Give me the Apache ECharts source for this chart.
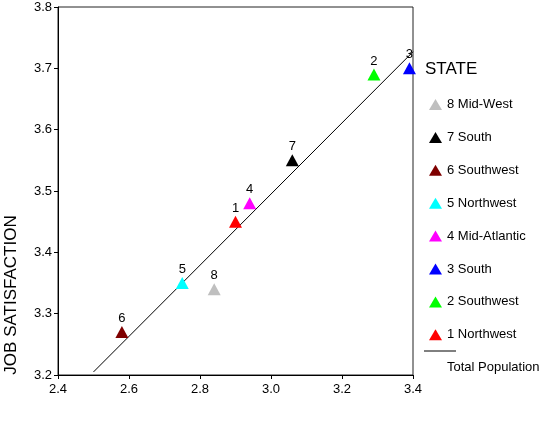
<!DOCTYPE html>
<html>
<head>
<meta charset="utf-8">
<script src="https://cdn.jsdelivr.net/npm/echarts@6/dist/echarts.min.js"></script>
<style>
  html, body { margin: 0; padding: 0; background: #fff; }
  #chart { width: 544px; height: 422px; }
</style>
</head>
<body>
<div id="chart"></div>
<script>
// state data
var stateIds = ["1", "2", "3", "4", "5", "6", "7", "8"];
var stateNames = ["1 Northwest", "2 Southwest", "3 South", "4 Mid-Atlantic", "5 Northwest", "6 Southwest", "7 South", "8 Mid-West"];
var xValues = [2.90, 3.29, 3.39, 2.94, 2.75, 2.58, 3.06, 2.84];
var satisfaction = [3.45, 3.69, 3.70, 3.48, 3.35, 3.27, 3.55, 3.34];
var stateColors = ["#ff0000", "#00ff00", "#0000ff", "#ff00ff", "#00ffff", "#7f0000", "#000000", "#bfbfbf"];
// total population fit line
var fitX = [2.50, 3.40];
var fitY = [3.205, 3.727];
// ticks
var xTicks = [2.4, 3.4, 0.2];
var yTicks = [3.2, 3.8, 0.1];

var fontFamily = "'Liberation Sans', Arial, sans-serif";

var charts = echarts.init(document.getElementById("chart"));

var series = [];
for (var i = 0; i < stateNames.length; i++) {
  series.push({
    name: stateNames[i],
    type: "scatter",
    symbol: "triangle",
    symbolSize: [13, 12],
    clip: false,
    itemStyle: { color: stateColors[i], opacity: 1 },
    label: {
      show: true,
      position: "top",
      distance: 1,
      color: "#000",
      fontSize: 13,
      fontFamily: fontFamily,
      formatter: stateIds[i],
    },
    data: [[xValues[i], satisfaction[i]]],
    z: 3,
  });
}
series.push({
  name: "Total Population",
  type: "line",
  symbol: "none",
  lineStyle: { color: "#000", width: 1 },
  data: [[fitX[0], fitY[0]], [fitX[1], fitY[1]]],
  z: 2,
});

var Option = {
  animation: false,
  textStyle: { fontFamily: fontFamily },
  grid: {
    left: 58,
    right: 131,
    top: 7,
    bottom: 47,
    show: true,
    borderColor: "#222",
    borderWidth: 1,
  },
  title: {
    text: "STATE",
    left: 420,
    top: 56,
    textStyle: { fontSize: 17, fontWeight: "normal", color: "#000", fontFamily: fontFamily },
  },
  legend: {
    data: stateNames.slice().reverse(),
    orient: "vertical",
    left: 424,
    top: 93,
    itemWidth: 13,
    itemHeight: 11,
    itemGap: 19.9,
    icon: "triangle",
    textStyle: { fontSize: 13, color: "#000", fontFamily: fontFamily },
    selectedMode: false,
  },
  xAxis: {
    type: "value",
    min: xTicks[0],
    max: xTicks[1],
    interval: xTicks[2],
    axisLine: { show: true, lineStyle: { color: "#000" } },
    axisTick: { show: true, length: 4, lineStyle: { color: "#000" } },
    splitLine: { show: false },
    axisLabel: {
      color: "#000",
      fontSize: 13,
      margin: 8,
      formatter: function (v) { return v.toFixed(1); },
    },
  },
  yAxis: {
    type: "value",
    min: yTicks[0],
    max: yTicks[1],
    interval: yTicks[2],
    axisLine: { show: true, lineStyle: { color: "#000" } },
    axisTick: { show: true, length: 4, lineStyle: { color: "#000" } },
    splitLine: { show: false },
    axisLabel: {
      color: "#000",
      fontSize: 13,
      margin: 6,
      formatter: function (v) { return v.toFixed(1); },
    },
  },
  graphic: [
    {
      type: "text",
      x: 11,
      y: 295,
      rotation: Math.PI / 2,
      style: {
        text: "JOB SATISFACTION",
        fill: "#000",
        font: "17px " + fontFamily,
        textAlign: "center",
        textVerticalAlign: "middle",
      },
    },
    {
      type: "line",
      shape: { x1: 424, y1: 351, x2: 456, y2: 351 },
      style: { stroke: "#000", lineWidth: 1 },
    },
    {
      type: "text",
      x: 447,
      y: 367,
      style: {
        text: "Total Population",
        fill: "#000",
        font: "13px " + fontFamily,
        textAlign: "left",
        textVerticalAlign: "middle",
      },
    },
  ],
  series: series,
};
charts.setOption(Option);
</script>
</body>
</html>
